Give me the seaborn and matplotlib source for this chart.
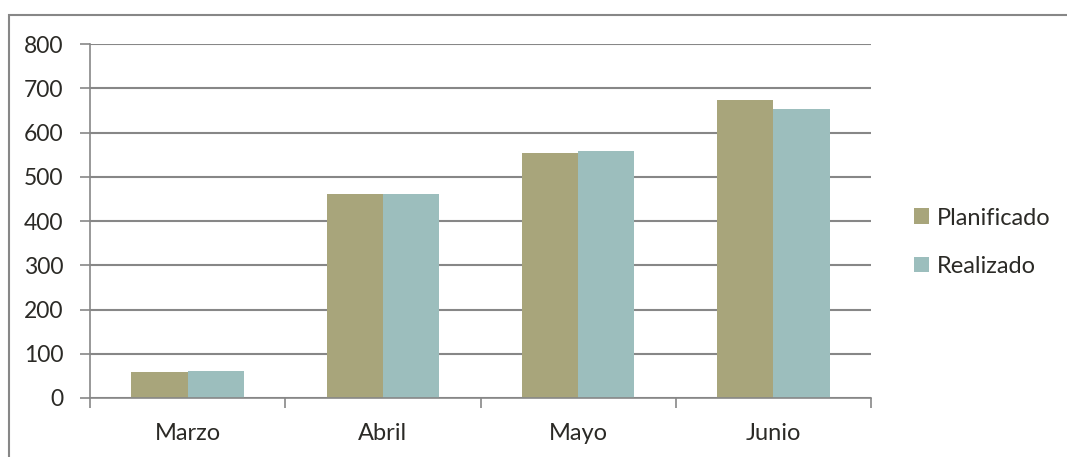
import matplotlib
matplotlib.use("Agg")
import matplotlib.pyplot as plt
import matplotlib.patches as mpatches
import seaborn as sns
import pandas as pd

months = ["Marzo", "Abril", "Mayo", "Junio"]
planificado = [59, 460, 554, 673]
realizado = [61, 460, 558, 654]
series_names = ["Planificado", "Realizado"]
colors = ["#A8A57B", "#9CBEBD"]
yticks = [0, 100, 200, 300, 400, 500, 600, 700, 800]

df = pd.DataFrame({
    "mes": months * 2,
    "valor": planificado + realizado,
    "serie": [series_names[0]] * len(months) + [series_names[1]] * len(months),
})

sns.set_theme(style="white")
plt.rcParams["font.family"] = ["Lato", "DejaVu Sans"]

TEXT = "#2b2a26"
GRID = "#878787"

fig = plt.figure(figsize=(10.67, 4.57), dpi=100)
ax = fig.add_axes([90 / 1067, 59 / 457, 781 / 1067, 354 / 457])

sns.barplot(data=df, x="mes", y="valor", hue="serie", palette=colors,
            width=0.575, ax=ax, saturation=1, edgecolor="none", linewidth=0)

ax.set_xlim(-0.5, 3.5)
ax.set_ylim(0, 800)
ax.set_yticks(yticks)
ax.set_yticklabels([str(v) for v in yticks])
ax.set_xlabel("")
ax.set_ylabel("")
ax.yaxis.grid(True, color=GRID, linewidth=1.5)
ax.set_axisbelow(True)

for s in ["top", "right"]:
    ax.spines[s].set_visible(False)
for s in ["left", "bottom"]:
    ax.spines[s].set_color(GRID)
    ax.spines[s].set_linewidth(1.2)

ax.tick_params(axis="y", which="major", length=7, width=1.2, color=GRID,
               labelsize=16.5, labelcolor=TEXT, pad=12, left=True)
ax.tick_params(axis="x", which="major", length=0, labelsize=17,
               labelcolor=TEXT, pad=18)
ax.set_xticks([0, 1, 2, 3])
ax.set_xticks([-0.5, 0.5, 1.5, 2.5, 3.5], minor=True)
ax.tick_params(axis="x", which="minor", length=7, width=1.2, color=GRID,
               bottom=True)

leg = ax.legend(loc="center left", bbox_to_anchor=(1.028, 0.44), frameon=False,
                fontsize=17, handlelength=0.65, handleheight=0.65,
                handletextpad=0.3, labelspacing=1.15)
for t in leg.get_texts():
    t.set_color(TEXT)

border = mpatches.Rectangle((8.5 / 1067, -0.1), 1.2, (457 - 15) / 457 + 0.1,
                            transform=fig.transFigure, fill=False,
                            edgecolor=GRID, linewidth=1.5, clip_on=False)
fig.patches.append(border)

fig.savefig("out.png", dpi=100)
